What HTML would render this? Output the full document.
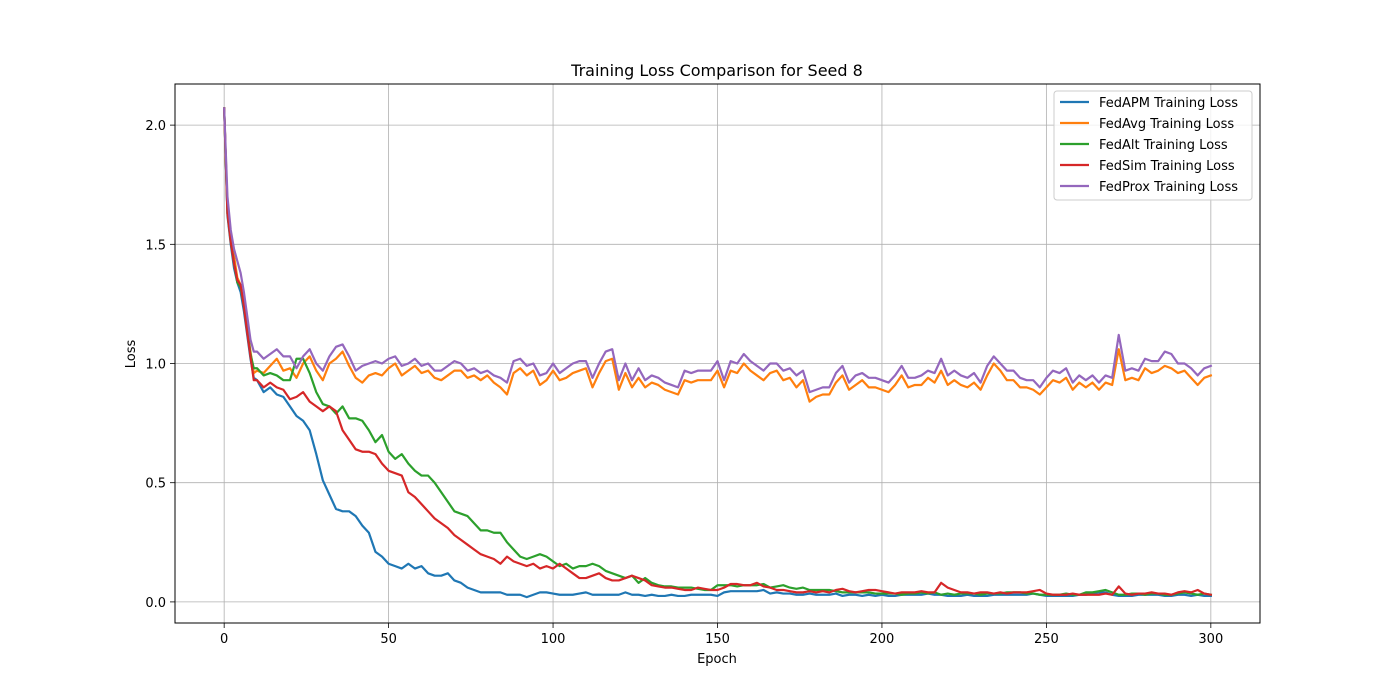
<!DOCTYPE html>
<html><head><meta charset="utf-8"><style>
html,body{margin:0;padding:0;background:#fff;}
svg{display:block;font-family:"DejaVu Sans","Liberation Sans",sans-serif;}
</style></head><body>
<svg id="chart" width="1400" height="700" viewBox="0 0 1400 700" xmlns="http://www.w3.org/2000/svg">
<rect x="0" y="0" width="1400" height="700" fill="#fff"/>
<text x="717" y="76" text-anchor="middle" font-size="16" fill="#000">Training Loss Comparison for Seed 8</text>
<g id="grid"></g>
<g id="series"></g>
<rect x="175" y="84" width="1085" height="539" fill="none" stroke="#000" stroke-width="1"/>
<g id="ticks"></g>
<text x="717" y="663" text-anchor="middle" font-size="13">Epoch</text>
<text x="0" y="0" transform="translate(135,354) rotate(-90)" text-anchor="middle" font-size="13">Loss</text>
<g id="legend">
<rect x="1054" y="91" width="198" height="109" rx="3" fill="#fff" fill-opacity="0.8" stroke="#ccc"/>
</g>
</svg>
<script>
const epochs=[0,1,2,3,4,5,6,7,8,9,10,12,14,16,18,20,22,24,26,28,30,32,34,36,38,40,42,44,46,48,50,52,54,56,58,60,62,64,66,68,70,72,74,76,78,80,82,84,86,88,90,92,94,96,98,100,102,104,106,108,110,112,114,116,118,120,122,124,126,128,130,132,134,136,138,140,142,144,146,148,150,152,154,156,158,160,162,164,166,168,170,172,174,176,178,180,182,184,186,188,190,192,194,196,198,200,202,204,206,208,210,212,214,216,218,220,222,224,226,228,230,232,234,236,238,240,242,244,246,248,250,252,254,256,258,260,262,264,266,268,270,272,274,276,278,280,282,284,286,288,290,292,294,296,298,300];
const fedAPM=[2.07,1.62,1.50,1.40,1.34,1.30,1.22,1.12,1.02,0.94,0.93,
0.88,0.90,0.87,0.86,0.82,
0.78,0.76,0.72,0.62,0.51,0.45,0.39,0.38,0.38,0.36,
0.32,0.29,0.21,0.19,0.16,0.15,0.14,0.16,0.14,0.15,
0.12,0.11,0.11,0.12,0.09,0.08,0.06,0.05,0.04,0.04,
0.04,0.04,0.03,0.03,0.03,0.02,0.03,0.04,0.04,0.035,
0.03,0.03,0.03,0.035,0.04,0.03,0.03,0.03,0.03,0.03,
0.04,0.03,0.03,0.025,0.03,0.025,0.025,0.03,0.025,0.025,
0.03,0.03,0.03,0.03,0.025,0.04,0.045,0.045,0.045,0.045,
0.045,0.05,0.035,0.04,0.035,0.035,0.03,0.03,0.035,0.03,
0.03,0.03,0.035,0.025,0.03,0.03,0.025,0.03,0.025,0.03,
0.025,0.025,0.03,0.03,0.03,0.03,0.035,0.03,0.03,0.025,
0.025,0.025,0.03,0.025,0.025,0.025,0.03,0.03,0.03,0.03,
0.03,0.03,0.035,0.03,0.025,0.025,0.025,0.025,0.025,0.03,
0.03,0.035,0.04,0.04,0.03,0.025,0.025,0.025,0.03,0.03,
0.03,0.03,0.025,0.025,0.03,0.03,0.025,0.03,0.025,0.025];
const fedAvg=[2.07,1.65,1.52,1.45,1.36,1.33,1.25,1.15,1.05,0.96,0.97,
0.96,0.99,1.02,0.97,0.98,
0.94,1.00,1.03,0.97,0.93,1.00,1.02,1.05,0.99,0.94,
0.92,0.95,0.96,0.95,0.98,1.00,0.95,0.97,0.99,0.96,
0.97,0.94,0.93,0.95,0.97,0.97,0.94,0.95,0.93,0.95,
0.92,0.90,0.87,0.96,0.98,0.95,0.97,0.91,0.93,0.97,
0.93,0.94,0.96,0.97,0.98,0.90,0.96,1.01,1.02,0.89,
0.96,0.90,0.94,0.90,0.92,0.91,0.89,0.88,0.87,0.93,
0.92,0.93,0.93,0.93,0.97,0.90,0.97,0.96,1.00,0.97,
0.95,0.93,0.96,0.97,0.93,0.94,0.90,0.93,0.84,0.86,
0.87,0.87,0.92,0.95,0.89,0.91,0.93,0.90,0.90,0.89,
0.88,0.91,0.95,0.90,0.91,0.91,0.94,0.92,0.97,0.91,
0.93,0.91,0.90,0.92,0.89,0.95,1.00,0.97,0.93,0.93,
0.90,0.90,0.89,0.87,0.90,0.93,0.92,0.94,0.89,0.92,
0.90,0.92,0.89,0.92,0.91,1.06,0.93,0.94,0.93,0.98,
0.96,0.97,0.99,0.98,0.96,0.97,0.94,0.91,0.94,0.95];
const fedAlt=[2.07,1.63,1.51,1.42,1.34,1.32,1.24,1.14,1.04,0.98,0.98,
0.95,0.96,0.95,0.93,0.93,
1.02,1.02,0.96,0.88,0.83,0.82,0.79,0.82,0.77,0.77,
0.76,0.72,0.67,0.70,0.63,0.60,0.62,0.58,0.55,0.53,
0.53,0.50,0.46,0.42,0.38,0.37,0.36,0.33,0.30,0.30,
0.29,0.29,0.25,0.22,0.19,0.18,0.19,0.20,0.19,0.17,
0.15,0.16,0.14,0.15,0.15,0.16,0.15,0.13,0.12,0.11,
0.10,0.11,0.08,0.10,0.08,0.07,0.065,0.065,0.06,0.06,
0.06,0.055,0.05,0.05,0.07,0.07,0.07,0.065,0.07,0.07,
0.07,0.075,0.06,0.065,0.07,0.06,0.055,0.06,0.05,0.05,
0.05,0.05,0.045,0.04,0.04,0.04,0.04,0.04,0.035,0.035,
0.035,0.035,0.03,0.035,0.035,0.04,0.035,0.04,0.03,0.035,
0.03,0.035,0.035,0.035,0.03,0.035,0.035,0.035,0.04,0.04,
0.04,0.035,0.035,0.03,0.03,0.03,0.03,0.035,0.03,0.03,
0.04,0.04,0.045,0.05,0.04,0.03,0.03,0.035,0.035,0.03,
0.035,0.035,0.03,0.03,0.035,0.04,0.035,0.03,0.035,0.03];
const fedSim=[2.07,1.63,1.51,1.42,1.35,1.33,1.24,1.13,1.03,0.93,0.93,
0.90,0.92,0.90,0.89,0.85,
0.86,0.88,0.84,0.82,0.80,0.82,0.80,0.72,0.68,0.64,
0.63,0.63,0.62,0.58,0.55,0.54,0.53,0.46,0.44,0.41,
0.38,0.35,0.33,0.31,0.28,0.26,0.24,0.22,0.20,0.19,
0.18,0.16,0.19,0.17,0.16,0.15,0.16,0.14,0.15,0.14,
0.16,0.14,0.12,0.10,0.10,0.11,0.12,0.10,0.09,0.09,
0.10,0.11,0.10,0.09,0.07,0.065,0.06,0.06,0.055,0.05,
0.05,0.06,0.055,0.05,0.05,0.06,0.075,0.075,0.07,0.07,
0.08,0.065,0.06,0.05,0.05,0.045,0.04,0.04,0.045,0.04,
0.045,0.04,0.05,0.055,0.045,0.04,0.045,0.05,0.05,0.045,
0.04,0.035,0.04,0.04,0.04,0.045,0.04,0.04,0.08,0.06,
0.05,0.04,0.04,0.035,0.04,0.04,0.035,0.04,0.035,0.04,
0.04,0.04,0.045,0.05,0.035,0.03,0.03,0.03,0.035,0.03,
0.03,0.03,0.03,0.035,0.03,0.065,0.035,0.03,0.035,0.035,
0.04,0.035,0.035,0.03,0.04,0.045,0.04,0.05,0.035,0.03];
const fedProx=[2.07,1.70,1.56,1.48,1.43,1.38,1.30,1.20,1.10,1.05,1.05,
1.02,1.04,1.06,1.03,1.03,
0.98,1.03,1.06,1.00,0.97,1.03,1.07,1.08,1.03,0.97,
0.99,1.00,1.01,1.00,1.02,1.03,0.99,1.00,1.02,0.99,
1.00,0.97,0.97,0.99,1.01,1.00,0.97,0.98,0.96,0.97,
0.95,0.94,0.92,1.01,1.02,0.99,1.00,0.95,0.96,1.00,
0.96,0.98,1.00,1.01,1.01,0.94,1.00,1.05,1.06,0.93,
1.00,0.93,0.98,0.93,0.95,0.94,0.92,0.91,0.90,0.97,
0.96,0.97,0.97,0.97,1.01,0.93,1.01,1.00,1.04,1.01,
0.99,0.97,1.00,1.00,0.97,0.98,0.95,0.97,0.88,0.89,
0.90,0.90,0.96,0.99,0.92,0.95,0.96,0.94,0.94,0.93,
0.92,0.95,0.99,0.94,0.94,0.95,0.97,0.96,1.02,0.95,
0.97,0.95,0.94,0.96,0.92,0.99,1.03,1.00,0.97,0.97,
0.94,0.93,0.93,0.90,0.94,0.97,0.96,0.98,0.92,0.95,
0.93,0.95,0.92,0.95,0.94,1.12,0.97,0.98,0.97,1.02,
1.01,1.01,1.05,1.04,1.00,1.00,0.98,0.95,0.98,0.99];
const seriesNames=["FedAPM Training Loss","FedAvg Training Loss","FedAlt Training Loss","FedSim Training Loss","FedProx Training Loss"];
const xTicks=[0,50,100,150,200,250,300];
const yTicks=[0.0,0.5,1.0,1.5,2.0];
const yTickLabels=["0.0","0.5","1.0","1.5","2.0"];

const NS="http://www.w3.org/2000/svg";
const L=175,R=1260,T=84,B=623;
const xMin=-14.95,xMax=314.95,yMin=-0.0885,yMax=2.1725;
function sx(v){return L+(v-xMin)/(xMax-xMin)*(R-L);}
function sy(v){return B-(v-yMin)/(yMax-yMin)*(B-T);}
function mk(tag,attrs,parent){const e=document.createElementNS(NS,tag);for(const k in attrs)e.setAttribute(k,attrs[k]);parent.appendChild(e);return e;}

const grid=document.getElementById('grid'),ticks=document.getElementById('ticks');
xTicks.forEach(t=>{
  const x=sx(t);
  const g=mk('line',{x1:x,x2:x,y1:T,y2:B,stroke:'#b0b0b0','stroke-width':0.8},grid);
  
  
  const tk=mk('line',{x1:x,x2:x,y1:B,y2:B+5,stroke:'#000','stroke-width':0.8},ticks);
  
  
  const lb=mk('text',{x:x,y:B+20,'text-anchor':'middle','font-size':13},ticks);
  lb.textContent=String(t);
  
  
});
yTicks.forEach((t,i)=>{
  const y=sy(t);
  const g=mk('line',{x1:L,x2:R,y1:y,y2:y,stroke:'#b0b0b0','stroke-width':0.8},grid);
  
  
  const tk=mk('line',{x1:L-5,x2:L,y1:y,y2:y,stroke:'#000','stroke-width':0.8},ticks);
  
  
  const lb=mk('text',{x:L-9,y:y+5,'text-anchor':'end','font-size':13},ticks);
  lb.textContent=yTickLabels[i];
  
  
});
const allSeries=[fedAPM,fedAvg,fedAlt,fedSim,fedProx];
const colors=['#1f77b4','#ff7f0e','#2ca02c','#d62728','#9467bd'];
const sg=document.getElementById('series');
allSeries.forEach((arr,si)=>{
  const d=arr.map((v,i)=>(i?'L':'M')+sx(epochs[i]).toFixed(2)+','+sy(v).toFixed(2)).join(' ');
  const p=mk('path',{d:d,fill:'none',stroke:colors[si],'stroke-width':2.2,'stroke-linejoin':'round','stroke-linecap':'square'},sg);
  
  
});
const lg=document.getElementById('legend');
seriesNames.forEach((n,i)=>{
  const y=102+i*21;
  const ln=mk('line',{x1:1060,x2:1089,y1:y,y2:y,stroke:colors[i],'stroke-width':2.2},lg);
  
  
  const tx=mk('text',{x:1099,y:y+5,'font-size':13},lg);
  tx.textContent=n;
  
  
});
</script>
</body></html>
